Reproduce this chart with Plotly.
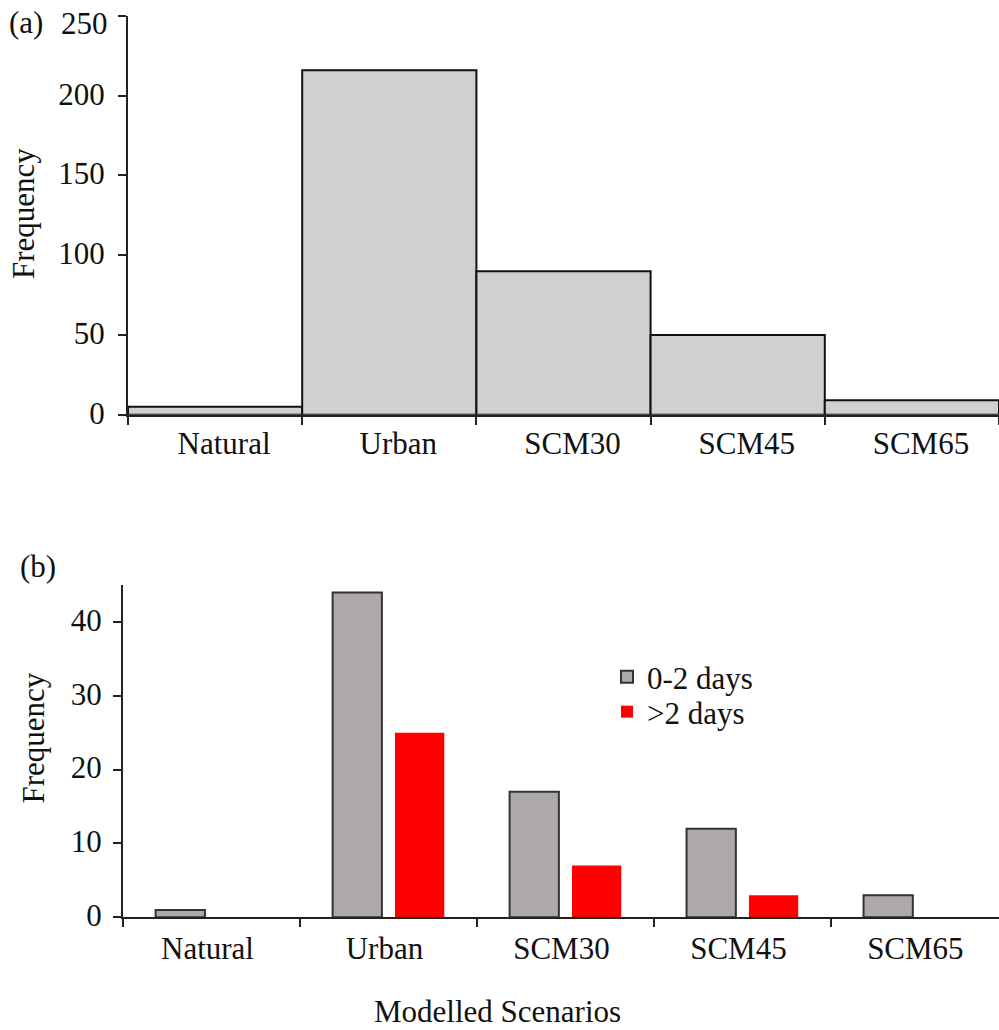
import plotly.graph_objects as go

categories = ["Natural", "Urban", "SCM30", "SCM45", "SCM65"]
freq_all = [5, 216, 90, 50, 9]
freq_short = [1, 44, 17, 12, 3]
freq_long = [0, 25, 7, 3, 0]
y_ticks_a = [0, 50, 100, 150, 200, 250]
y_ticks_b = [0, 10, 20, 30, 40]

W, H = 999, 1030
FONT = "Liberation Serif"
FS = 31
TXT = "#111111"
AX = "#222222"

fig = go.Figure()

fig.add_trace(go.Bar(
    x=categories, y=freq_all, width=1,
    marker=dict(color="#D1CFD1", line=dict(color="#111111", width=2)),
    xaxis="x", yaxis="y", showlegend=False,
))
fig.add_trace(go.Bar(
    x=categories, y=freq_short, name="0-2 days",
    marker=dict(color="#ADA9A9", line=dict(color="#333333", width=2)),
    xaxis="x2", yaxis="y2", legend="legend",
))
fig.add_trace(go.Bar(
    x=categories, y=freq_long, name=">2 days",
    marker=dict(color="#FF0000", line=dict(width=0)),
    xaxis="x2", yaxis="y2", legend="legend2",
))

def px_x(p):
    return p / W

def px_y(p):
    return 1 - p / H

common_x = dict(
    type="category", showline=True, linecolor=AX, linewidth=2,
    ticks="outside", ticklen=8, tickwidth=2, tickcolor=AX,
    tickson="boundaries", showgrid=False, zeroline=False, automargin=False,
    ticklabeloverflow="allow",
    tickfont=dict(family=FONT, size=FS, color=TXT),
)
common_y = dict(
    showline=True, linecolor=AX, linewidth=2,
    ticks="outside", ticklen=8, tickwidth=2, tickcolor=AX,
    showgrid=False, zeroline=False, automargin=False,
    ticklabeloverflow="allow", ticklabelshift=-2,
    tickfont=dict(family=FONT, size=FS, color=TXT),
)

legend_common = dict(
    xanchor="left", yanchor="top",
    font=dict(family=FONT, size=FS, color=TXT),
    bgcolor="rgba(0,0,0,0)",
)

dom_a = [px_y(414.7), px_y(16)]
top_val = y_ticks_a[-1]
labels_a = [str(v) if v != top_val else "" for v in y_ticks_a]

fig.update_layout(
    width=W, height=H,
    margin=dict(l=0, r=0, t=0, b=0, autoexpand=False),
    paper_bgcolor="white", plot_bgcolor="white",
    barmode="group", bargap=0.295, bargroupgap=0.21,
    font=dict(family=FONT, size=FS, color=TXT),
    xaxis=dict(common_x, domain=[px_x(128), 1.0], anchor="y",
               range=[-0.5, 4.5], ticklabelshift=9),
    yaxis=dict(common_y, domain=dom_a, anchor="x",
               range=[0, 250], tickvals=y_ticks_a, ticktext=labels_a,
               ticklabelstandoff=7),
    xaxis2=dict(common_x, domain=[px_x(123), 1.0], anchor="y2",
                range=[-0.5, 4.45], ticklabelshift=-4, ticklabelstandoff=2),
    yaxis2=dict(common_y, domain=[px_y(917.3), px_y(585)], anchor="x2",
                range=[0, 45], tickvals=y_ticks_b, ticklabelstandoff=5),
    legend=dict(legend_common, x=px_x(607), y=px_y(650)),
    legend2=dict(legend_common, x=px_x(607), y=px_y(685)),
    annotations=[
        dict(text=str(top_val), x=px_x(110), y=top_val, xref="paper", yref="y",
             xanchor="right", yanchor="middle", yshift=-7, showarrow=False,
             font=dict(family=FONT, size=FS, color=TXT)),
        dict(text="(a)", x=px_x(7), y=px_y(22.5), xref="paper", yref="paper",
             xanchor="left", yanchor="middle", showarrow=False,
             font=dict(family=FONT, size=FS, color=TXT)),
        dict(text="(b)", x=px_x(18), y=px_y(566), xref="paper", yref="paper",
             xanchor="left", yanchor="middle", showarrow=False,
             font=dict(family=FONT, size=FS, color=TXT)),
        dict(text="Frequency", x=px_x(24), y=px_y(214), xref="paper", yref="paper",
             xanchor="center", yanchor="middle", textangle=-90, showarrow=False,
             font=dict(family=FONT, size=FS, color=TXT)),
        dict(text="Frequency", x=px_x(32.5), y=px_y(738), xref="paper", yref="paper",
             xanchor="center", yanchor="middle", textangle=-90, showarrow=False,
             font=dict(family=FONT, size=FS, color=TXT)),
        dict(text="Modelled Scenarios", x=px_x(497), y=px_y(1011), xref="paper", yref="paper",
             xanchor="center", yanchor="middle", showarrow=False,
             font=dict(family=FONT, size=FS, color=TXT)),
    ],
)

fig.write_html(
    "out.html",
    config={"displayModeBar": False},
    post_script="document.body.style.margin='0';"
                "document.documentElement.style.overflow='hidden';",
)
